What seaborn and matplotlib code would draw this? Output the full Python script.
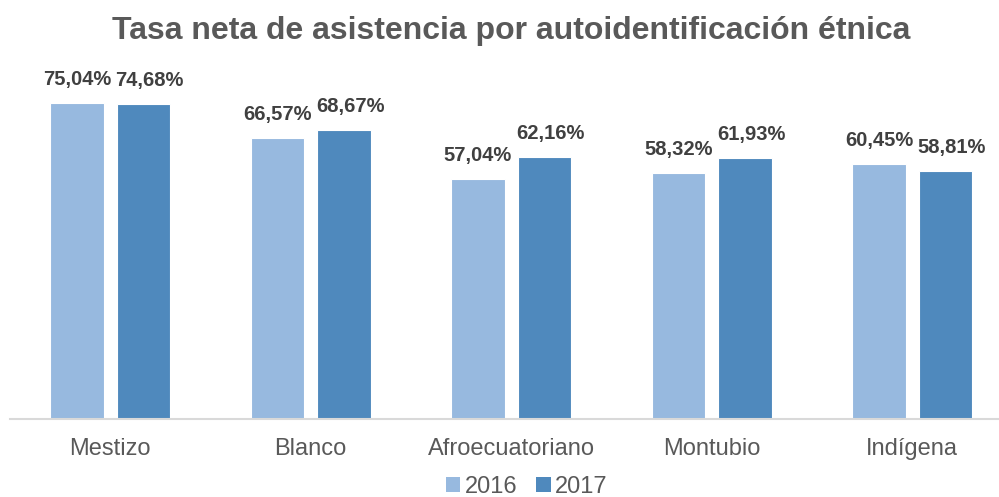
import matplotlib
matplotlib.use("Agg")
import matplotlib.pyplot as plt
import seaborn as sns
import pandas as pd
from matplotlib.patches import Patch

# Net attendance rate by ethnic self-identification
categories = ["Mestizo", "Blanco", "Afroecuatoriano", "Montubio", "Indígena"]
years = ["2016", "2017"]
values_2016 = [75.04, 66.57, 57.04, 58.32, 60.45]
values_2017 = [74.68, 68.67, 62.16, 61.93, 58.81]

colors = ["#97B9DF", "#4F89BD"]
text_gray = "#595959"
label_gray = "#404040"

df = pd.DataFrame({
    "categoria": categories * 2,
    "anio": [years[0]] * len(categories) + [years[1]] * len(categories),
    "tasa": values_2016 + values_2017,
})

sns.set_theme(style="white")
plt.rcParams["font.family"] = ["Liberation Sans", "DejaVu Sans"]

W, H = 999, 497
fig = plt.figure(figsize=(W / 100, H / 100), dpi=100)

# axes geometry in pixels
left_px, right_px = 10, 999
base_px = 419
px_per_unit = 4.214
ymax = 80
ax = fig.add_axes([left_px / W, (H - base_px) / H,
                   (right_px - left_px) / W, ymax * px_per_unit / H])

sns.barplot(data=df, x="categoria", y="tasa", hue="anio", order=categories,
            hue_order=years, palette=colors, saturation=1, width=0.664, gap=0.2,
            edgecolor="white", linewidth=0.8, ax=ax, legend=False)

cat_px = 200.5
ax.set_xlim(-0.5, -0.5 + (right_px - left_px) / cat_px)
ax.set_ylim(0, ymax)

# value labels; the second series' labels sit slightly to the right
label_dx = [0, 6]
for container, dx in zip(ax.containers, label_dx):
    for bar in container:
        h = bar.get_height()
        ax.annotate(f"{h:.2f}%".replace(".", ","),
                    xy=(bar.get_x() + bar.get_width() / 2, h),
                    xytext=(dx, 14), textcoords="offset pixels",
                    ha="center", va="bottom", fontsize=14.5,
                    fontweight="bold", color=label_gray)

for side in ["top", "right", "left"]:
    ax.spines[side].set_visible(False)
ax.spines["bottom"].set_color("#D9D9D9")
ax.spines["bottom"].set_linewidth(1.5)
ax.set_yticks([])
ax.set_xlabel("")
ax.set_ylabel("")
ax.tick_params(axis="x", length=0, pad=14, labelsize=17, labelcolor=text_gray)

fig.text(511 / W, 1 - 31 / H, "Tasa neta de asistencia por autoidentificación étnica",
         ha="center", va="center", fontsize=23, fontweight="bold", color=text_gray)

handles = [Patch(facecolor=c, edgecolor="none") for c in colors]
fig.legend(handles, years, loc="center", bbox_to_anchor=(527 / W, 1 - 487 / H),
           ncol=2, frameon=False, fontsize=17, labelcolor=text_gray,
           handlelength=0.6, handleheight=0.6, handletextpad=0.2,
           columnspacing=0.8, borderpad=0)

fig.savefig("out.png", dpi=100)
